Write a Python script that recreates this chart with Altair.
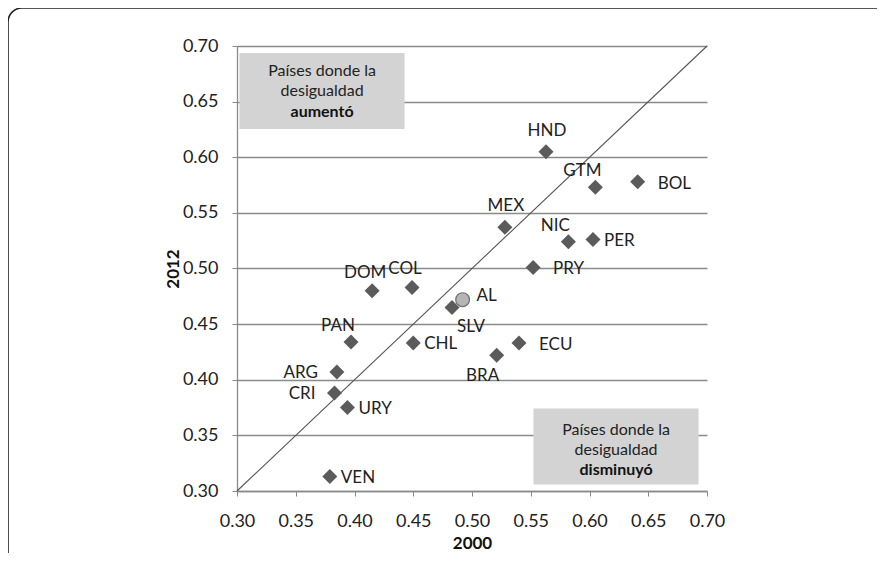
import altair as alt
import pandas as pd

# ---- data ----
countries = ["HND", "GTM", "BOL", "MEX", "NIC", "PER", "PRY", "SLV", "ECU",
             "BRA", "CHL", "PAN", "ARG", "CRI", "URY", "VEN", "DOM", "COL"]
gini_2000 = [0.563, 0.605, 0.641, 0.528, 0.582, 0.603, 0.552, 0.483, 0.540,
             0.521, 0.450, 0.397, 0.385, 0.383, 0.394, 0.379, 0.415, 0.449]
gini_2012 = [0.605, 0.573, 0.578, 0.537, 0.524, 0.526, 0.501, 0.465, 0.433,
             0.422, 0.433, 0.434, 0.407, 0.388, 0.375, 0.313, 0.480, 0.483]
label_side = ["N", "NW", "E2", "N", "NW", "E", "E2", "SE", "E2",
              "SW", "E", "NW", "W", "W", "E", "E", "NN", "NN"]

region_name = ["AL"]
region_2000 = [0.492]
region_2012 = [0.472]

diag = [0.30, 0.70]
ticks = [0.30, 0.35, 0.40, 0.45, 0.50, 0.55, 0.60, 0.65, 0.70]

box_lines_up = ["Países donde la", "desigualdad", "aumentó"]
box_lines_down = ["Países donde la", "desigualdad", "disminuyó"]

FONT = "Lato"

pts = pd.DataFrame({"country": countries, "x2000": gini_2000,
                    "y2012": gini_2012, "side": label_side})
al = pd.DataFrame({"country": region_name, "x2000": region_2000,
                   "y2012": region_2012})
diag_df = pd.DataFrame({"x2000": diag, "y2012": diag})

xs = alt.Scale(domain=[0.30, 0.70], nice=False, zero=False)
ys = alt.Scale(domain=[0.30, 0.70], nice=False, zero=False)

X = alt.X("x2000:Q", scale=xs, title="2000",
          axis=alt.Axis(values=ticks, format=".2f", grid=False, labelFlush=False))
Y = alt.Y("y2012:Q", scale=ys, title="2012",
          axis=alt.Axis(values=ticks, format=".2f", grid=True, labelFlush=False))

# frame around the figure
frame = alt.Chart(pd.DataFrame({"a": [0]})).mark_rect(
    fill=None, stroke="#222222", strokeWidth=1.6, cornerRadius=14, clip=False
).encode(x=alt.value(-229), x2=alt.value(700), y=alt.value(-38), y2=alt.value(525))

# grey annotation boxes
boxes = pd.DataFrame({
    "bx": [0.3021, 0.5523], "bx2": [0.4426, 0.6928],
    "by": [0.6255, 0.3058], "by2": [0.6937, 0.3741],
})
box_layer = alt.Chart(boxes).mark_rect(color="#d3d3d3").encode(
    x=alt.X("bx:Q", scale=xs), x2="bx2:Q",
    y=alt.Y("by:Q", scale=ys), y2="by2:Q")

ann = pd.DataFrame({
    "tx": [0.3724] * 3 + [0.6226] * 3,
    "ty": [0.6775, 0.6595, 0.6410, 0.3552, 0.3372, 0.3193],
    "text": box_lines_up + box_lines_down,
    "bold": [False, False, True, False, False, True],
})
ann_normal = alt.Chart(ann).transform_filter("!datum.bold").mark_text(
    font=FONT, fontSize=16, color="#222222", align="center", baseline="middle"
).encode(x=alt.X("tx:Q", scale=xs), y=alt.Y("ty:Q", scale=ys), text="text:N")
ann_bold = alt.Chart(ann).transform_filter("datum.bold").mark_text(
    font=FONT, fontSize=16, fontWeight="bold", color="#111111",
    align="center", baseline="middle"
).encode(x=alt.X("tx:Q", scale=xs), y=alt.Y("ty:Q", scale=ys), text="text:N")

diag_line = alt.Chart(diag_df).mark_line(color="#555555", strokeWidth=1.1).encode(
    x=X, y=Y)

diamonds = alt.Chart(pts).mark_point(
    shape="diamond", filled=True, size=225, color="#5b5b5b", opacity=1
).encode(x=alt.X("x2000:Q", scale=xs), y=alt.Y("y2012:Q", scale=ys))

al_pt = alt.Chart(al).mark_point(
    shape="circle", filled=True, size=190, fill="#b5b5b5", stroke="#707070",
    strokeWidth=1.2, opacity=1
).encode(x=alt.X("x2000:Q", scale=xs), y=alt.Y("y2012:Q", scale=ys))

styles = {
    "N": dict(dx=1, dy=-21, align="center"),
    "NN": dict(dx=-7, dy=-18, align="center"),
    "NW": dict(dx=-13, dy=-16, align="center"),
    "E": dict(dx=11, dy=1, align="left"),
    "E2": dict(dx=20, dy=2, align="left"),
    "W": dict(dx=-19, dy=1, align="right"),
    "SE": dict(dx=19, dy=20, align="center"),
    "SW": dict(dx=-14, dy=21, align="center"),
}
label_layers = []
for side, st in styles.items():
    label_layers.append(
        alt.Chart(pts).transform_filter(alt.datum.side == side).mark_text(
            font=FONT, fontSize=17, color="#222222", baseline="middle", **st
        ).encode(x=alt.X("x2000:Q", scale=xs), y=alt.Y("y2012:Q", scale=ys),
                 text="country:N")
    )
al_label = alt.Chart(al).mark_text(
    font=FONT, fontSize=17, color="#222222", baseline="middle", align="left",
    dx=14, dy=-4
).encode(x=alt.X("x2000:Q", scale=xs), y=alt.Y("y2012:Q", scale=ys),
         text="country:N")

chart = alt.layer(
    frame, diag_line, box_layer, ann_normal, ann_bold, diamonds, al_pt,
    *label_layers, al_label
).properties(
    width=470, height=445, autosize="none",
    padding={"left": 229, "top": 38, "right": 170, "bottom": 62},
).configure_view(stroke=None).configure_axis(
    labelFont=FONT, labelFontSize=18, labelColor="#222222",
    titleFont=FONT, titleFontSize=17, titleFontWeight="bold", titleColor="#111111",
    domainColor="#8a8a8a", domainWidth=1.3, tickColor="#8a8a8a", tickSize=5,
    gridColor="#8a8a8a", gridWidth=1.3,
).configure_axisX(labelPadding=16, titlePadding=5
).configure_axisY(labelPadding=14, titlePadding=0)

chart.save("out.html", embed_options={"renderer": "svg", "actions": False})
